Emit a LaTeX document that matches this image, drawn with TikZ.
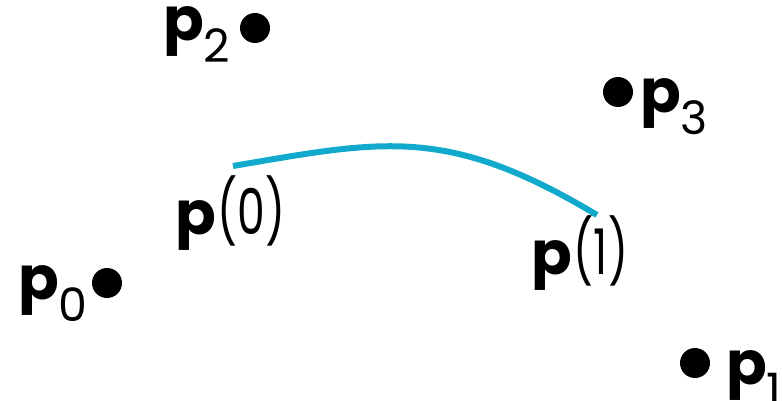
\documentclass[tikz,border=0pt]{standalone}
\usepackage{fontspec}
\usepackage{graphicx}
\setmainfont{Poppins}
\usetikzlibrary{positioning}

\definecolor{curvecyan}{RGB}{18,170,204}
% label pieces: bold point name, lowered index, curve parameter
\newcommand{\boldp}{{\fontsize{60}{60}\selectfont\bfseries p}}
\newcommand{\sublab}[1]{\raisebox{-22pt}{\fontsize{46}{46}\selectfont #1}}
\newcommand{\arglab}[1]{\hspace{2pt}\scalebox{0.7}[1]{\fontsize{63}{63}\selectfont(#1)}}

\begin{document}
\begin{tikzpicture}[x=1pt, y=-1pt,
    % Define styles for control points and labels
    ctrl/.style={circle, fill=black, inner sep=0pt, minimum size=30pt},
    lab/.style={inner sep=0pt, anchor=base west},
    % Define curve style
    curve/.style={draw=curvecyan, line width=6pt}
]
    \useasboundingbox (0,0) rectangle (782,401);

    % --- Control points ---
    \node[ctrl] (P0) at (107,283) {};
    \node[ctrl] (P1) at (695,363) {};
    \node[ctrl] (P2) at (255,28) {};
    \node[ctrl] (P3) at (618,92) {};

    % --- Point labels ---
    \node[lab] (L0) at (18,299) {\boldp\sublab{0}};
    \node[lab] (L1) at (726,384) {\boldp\sublab{1}};
    \node[lab] (L2) at (163,41) {\boldp\sublab{2}};
    \node[lab] (L3) at (640,113) {\boldp\sublab{3}};

    % --- The curve segment ---
    \coordinate (C0) at (233,166);
    \coordinate (C1) at (597,215);
    \draw[curve] (C0) .. controls (383,140.5) and (447,125) .. (C1);

    % --- End labels ---
    \node[lab] (A0) at (175,234) {\boldp\arglab{0}};
    \node[lab] (A1) at (531,274) {\boldp\arglab{1}};

\end{tikzpicture}
\end{document}
